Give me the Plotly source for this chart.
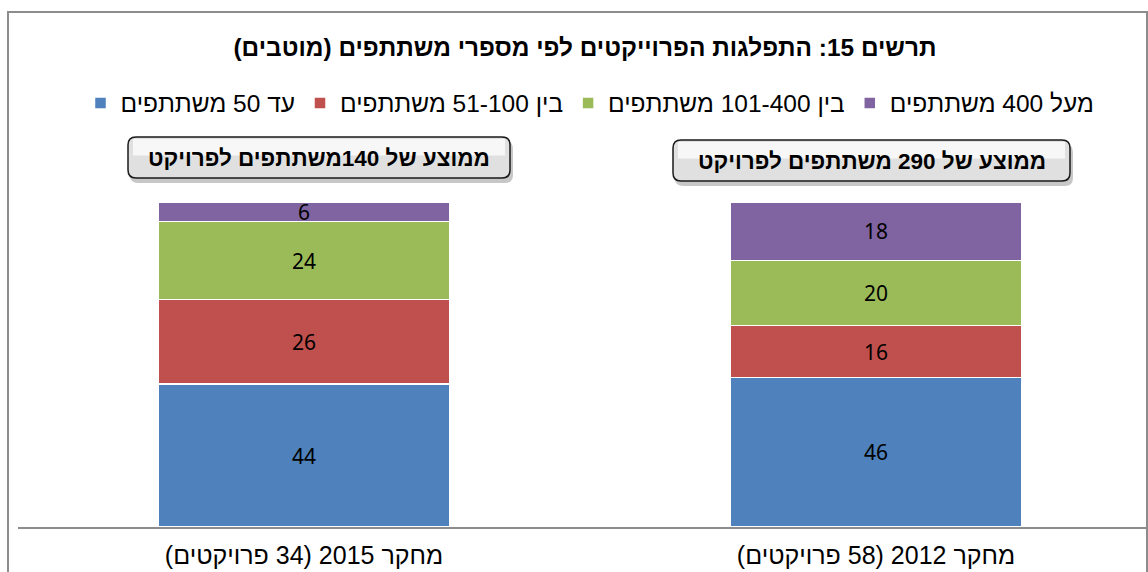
import plotly.graph_objects as go

# ---------------- data ----------------
categories = ["מחקר 2012 (58 פרויקטים)\u200f", "מחקר 2015 (34 פרויקטים)\u200f"]
series_names = ["עד 50 משתתפים", "בין 51-100 משתתפים", "בין 101-400 משתתפים", "מעל 400 משתתפים"]
upto_50 = [46, 44]
from_51_to_100 = [16, 26]
from_101_to_400 = [20, 24]
over_400 = [18, 6]
series_values = [upto_50, from_51_to_100, from_101_to_400, over_400]
box_labels = ["ממוצע של 290 משתתפים לפרויקט", "ממוצע של 140משתתפים לפרויקט"]
title_text = "תרשים 15: התפלגות הפרוייקטים לפי מספרי משתתפים (מוטבים)\u200f"

colors = ["#4F81BD", "#C0504D", "#9BBB59", "#8064A2"]

# ---------------- geometry helpers ----------------
W, H = 1148, 572
L, R, T, B = 18, 0, 202, 45
PW, PH = W - L - R, H - T - B


def px(x):
    return (x - L) / PW


def py(y):
    return (H - B - y) / PH


def rounded_path(x0, y0, x1, y1, r):
    pts = [
        ("M", [(x0 + r, y0)]),
        ("L", [(x1 - r, y0)]),
        ("Q", [(x1, y0), (x1, y0 + r)]),
        ("L", [(x1, y1 - r)]),
        ("Q", [(x1, y1), (x1 - r, y1)]),
        ("L", [(x0 + r, y1)]),
        ("Q", [(x0, y1), (x0, y1 - r)]),
        ("L", [(x0, y0 + r)]),
        ("Q", [(x0, y0), (x0 + r, y0)]),
    ]
    s = ""
    for cmd, ps in pts:
        s += cmd + " " + " ".join(f"{px(a):.5f},{py(b):.5f}" for a, b in ps) + " "
    return s + "Z"


fig = go.Figure()
for name, vals, col in zip(series_names, series_values, colors):
    fig.add_trace(go.Bar(
        x=categories, y=vals, name=name,
        width=[0.51] * len(categories),
        marker=dict(color=col, line=dict(color="white", width=1.5)),
        texttemplate="%{y}", textposition="inside", insidetextanchor="middle",
        constraintext="none", textangle=0,
        textfont=dict(family="Noto Sans", size=21, color="#000000"),
        hoverinfo="skip",
    ))

shapes = [
    # outer border
    dict(type="rect", xref="paper", yref="paper",
         x0=px(8), y0=py(12), x1=px(1147), y1=py(640),
         line=dict(color="#8c8c8c", width=2), fillcolor="rgba(0,0,0,0)", layer="below"),
]
annotations = []
boxes = [(673, 140, 1070, 181), (128, 137, 510, 178)]
for (x0, y0, x1, y1), txt in zip(boxes, box_labels):
    # shadow
    shapes.append(dict(type="path", xref="paper", yref="paper",
                       path=rounded_path(x0 + 2, y0 + 4, x1 + 3, y1 + 5, 8),
                       fillcolor="rgba(0,0,0,0.22)", line=dict(width=0)))
    # box body
    shapes.append(dict(type="path", xref="paper", yref="paper",
                       path=rounded_path(x0, y0, x1, y1, 8),
                       fillcolor="#e0e0e0", line=dict(color="#1a1a1a", width=1.5)))
    # lighter top highlight
    shapes.append(dict(type="rect", xref="paper", yref="paper",
                       x0=px(x0 + 5), x1=px(x1 - 5), y0=py(y0 + 2), y1=py(y0 + (y1 - y0) * 0.45),
                       fillcolor="rgba(255,255,255,0.75)", line=dict(width=0)))
    annotations.append(dict(xref="paper", yref="paper", x=px((x0 + x1) / 2), y=py((y0 + y1) / 2 + 1),
                            text="<b>" + txt + "</b>", showarrow=False,
                            font=dict(family="Liberation Sans", size=22.5, color="#000000"),
                            xanchor="center", yanchor="middle"))

fig.update_layout(
    width=W, height=H,
    margin=dict(l=L, r=R, t=T, b=B, autoexpand=False),
    paper_bgcolor="white", plot_bgcolor="white",
    barmode="stack",
    title=dict(text="<b>" + title_text + "</b>", x=585 / W, y=1 - 47 / H,
               xanchor="center", yanchor="middle",
               font=dict(family="Liberation Sans", size=24.4, color="#000000")),
    legend=dict(orientation="h", x=px(590), y=py(103), xanchor="center", yanchor="middle",
                font=dict(family="Liberation Sans", size=24.5, color="#000000"),
                traceorder="normal", itemclick=False, itemdoubleclick=False,
                bgcolor="rgba(0,0,0,0)"),
    xaxis=dict(type="category", categoryorder="array", categoryarray=categories,
               range=[1.5, -0.4755], autorange=False, automargin=False,
               showline=True, linecolor="#8c8c8c", linewidth=1.5,
               ticks="", showgrid=False, zeroline=False, fixedrange=True,
               tickfont=dict(family="Liberation Sans", size=25, color="#000000"),
               ticklabelstandoff=5),
    yaxis=dict(range=[0, 100], visible=False, fixedrange=True, automargin=False),
    shapes=shapes,
    annotations=annotations,
    showlegend=True,
)

fig.write_html("out.html", config={"displayModeBar": False},
               post_script="document.body.style.margin='0px';")
